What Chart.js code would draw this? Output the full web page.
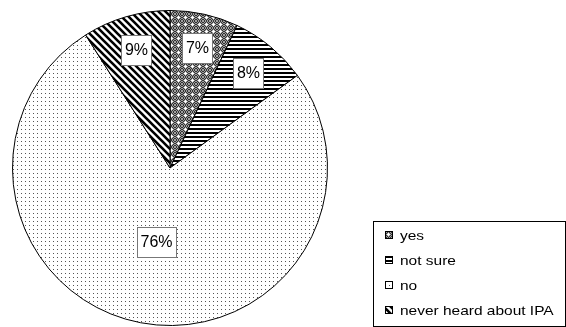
<!DOCTYPE html>
<html>
<head>
<meta charset="utf-8">
<style>
  html, body { margin: 0; padding: 0; background: #fff; }
</style>
</head>
<body>
<canvas id="chart" width="566" height="327"></canvas>
<script src="https://cdn.jsdelivr.net/npm/chart.js@4/dist/chart.umd.min.js"></script>
<script>
// data ------------------------------------------------------------
const answers = ['yes', 'not sure', 'no', 'never heard about IPA']
const shares = [7, 8, 76, 9]
const shareLabels = ['7%', '8%', '76%', '9%']

// hatch fills, like the old office chart ----------------------------
const canvas = document.getElementById('chart')
const ctx = canvas.getContext('2d')

function makePattern(size, draw) {
    const c = document.createElement('canvas')
    c.width = size
    c.height = size
    const g = c.getContext('2d')
    g.fillStyle = '#fff'
    g.fillRect(0, 0, size, size)
    draw(g, size)
    return ctx.createPattern(c, 'repeat')
}

// yes: dithered grey with small white crosses
const dotsGrey = makePattern(7, (g, s) => {
    for (let y = 0; y < s; y++) {
        for (let x = 0; x < s; x++) {
            g.fillStyle = (x + y) % 2 ? '#333' : '#a0a0a0'
            g.fillRect(x, y, 1, 1)
        }
    }
    g.fillStyle = '#fff'
    g.fillRect(3, 2, 1, 3)
    g.fillRect(2, 3, 3, 1)
})

// not sure: horizontal stripes
const stripesH = makePattern(4, (g) => {
    g.fillStyle = '#000'
    g.fillRect(0, 0, 4, 2)
})

// no: sparse dots
const dotsSparse = makePattern(4, (g) => {
    g.fillStyle = '#555'
    g.fillRect(1, 1, 1, 1)
})

// never heard: thick diagonal stripes
const stripesD = makePattern(7, (g, s) => {
    g.strokeStyle = '#000'
    g.lineWidth = 2.6
    g.beginPath()
    for (let k = -1; k <= 1; k++) {
        g.moveTo(k * s - 1, -1)
        g.lineTo(k * s + s + 1, s + 1)
    }
    g.stroke()
})

const fills = [dotsGrey, stripesH, dotsSparse, stripesD]

// percentage boxes on the slices
const labelBoxes = {
    id: 'labelBoxes',
    afterDatasetsDraw(chart) {
        const c = chart.ctx
        const meta = chart.getDatasetMeta(0)
        c.save()
        c.font = '16px "Liberation Sans", Arial, sans-serif'
        c.textAlign = 'center'
        c.textBaseline = 'middle'
        meta.data.forEach((arc, i) => {
            const p = arc.getProps(['x', 'y', 'startAngle', 'endAngle', 'outerRadius'], true)
            const mid = (p.startAngle + p.endAngle) / 2
            const k = shares[i] > 50 ? 0.48 : 0.78
            const x = Math.round(p.x + Math.cos(mid) * p.outerRadius * k)
            const y = Math.round(p.y + Math.sin(mid) * p.outerRadius * k)
            const w = Math.round(c.measureText(shareLabels[i]).width + 7)
            const h = 30
            const left = Math.round(x - w / 2) + 0.5
            const top = Math.round(y - h / 2) + 0.5
            c.fillStyle = '#fff'
            c.fillRect(left, top, w, h)
            c.strokeStyle = '#777'
            c.lineWidth = 1
            c.strokeRect(left, top, w, h)
            c.fillStyle = '#000'
            c.fillText(shareLabels[i], x + 0.5, y + 1)
        })
        c.restore()
    }
}

// legend box bottom right (text a bit wide, as in the scan)
const boxLegend = {
    id: 'boxLegend',
    afterDraw(chart) {
        const c = chart.ctx
        c.save()
        c.strokeStyle = '#000'
        c.lineWidth = 1
        c.strokeRect(373.5, 221.5, 192, 105)
        c.font = '13px "Liberation Sans", Arial, sans-serif'
        c.textBaseline = 'middle'
        answers.forEach((name, i) => {
            const y = 235 + i * 25
            c.fillStyle = fills[i]
            c.fillRect(385, y - 4, 8, 8)
            c.strokeRect(385.5, y - 3.5, 7, 7)
            c.save()
            c.translate(400, y + 1)
            c.scale(1.19, 1)
            c.fillStyle = '#000'
            c.fillText(name, 0, 0)
            c.restore()
        })
        c.restore()
    }
}

new Chart(ctx, {
    type: 'pie',
    data: {
        labels: answers,
        datasets: [{
            data: shares,
            backgroundColor: fills,
            borderColor: '#000',
            borderWidth: 1
        }]
    },
    options: {
        responsive: false,
        animation: false,
        layout: {
            padding: { left: 12, top: 10, right: 238, bottom: 1 }
        },
        plugins: {
            legend: { display: false },
            tooltip: { enabled: false }
        }
    },
    plugins: [labelBoxes, boxLegend]
})
</script>
</body>
</html>
